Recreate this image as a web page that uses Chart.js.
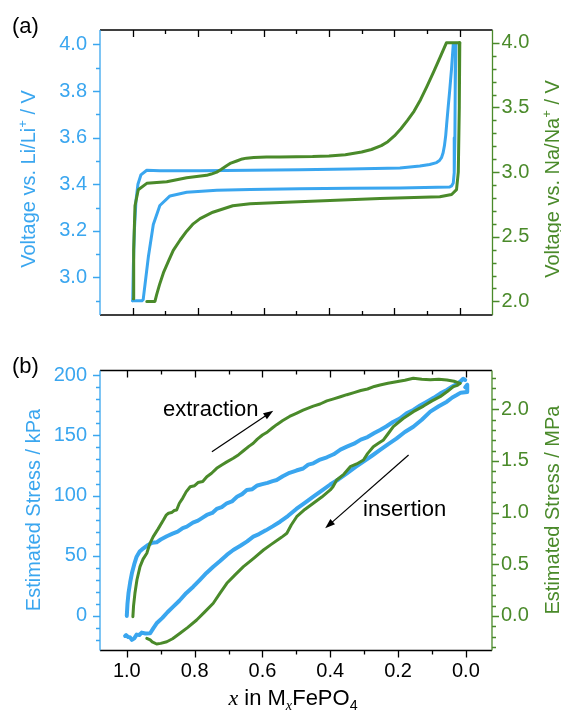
<!DOCTYPE html>
<html lang="en">
<head>
<meta charset="UTF-8">
<title>Voltage and stress vs x in MxFePO4</title>
<script src="https://cdn.jsdelivr.net/npm/chart.js"></script>
<style>
    body { margin: 0; background: #fff; }
    #wrap { position: relative; width: 561px; height: 711px; font-family: "Liberation Sans", Arial, sans-serif; }
    canvas { position: absolute; left: 0; }
    .lbl { position: absolute; white-space: nowrap; line-height: 1; font-size: 20px; }
    .vt { transform: translate(-50%, -50%) rotate(-90deg); }
    .blue { color: #3aa6ef; }
    .green { color: #4a8a2a; }
    sup, sub { font-size: 0.65em; position: relative; vertical-align: baseline; }
    sup { top: -0.6em; }
    sub { top: 0.35em; }
</style>
</head>
<body>
<div id="wrap">
    <canvas id="topChart" width="561" height="340" style="top:0"></canvas>
    <canvas id="botChart" width="561" height="371" style="top:340px"></canvas>

    <div class="lbl" style="left:12px; top:15px; font-size:22px;">(a)</div>
    <div class="lbl" style="left:12px; top:355px; font-size:22px;">(b)</div>

    <div class="lbl vt blue" style="left:28px; top:179px;">Voltage vs. Li/Li<sup>+</sup> / V</div>
    <div class="lbl vt green" style="left:552px; top:179px;">Voltage vs. Na/Na<sup>+</sup> / V</div>
    <div class="lbl vt blue" style="left:33px; top:510px;">Estimated Stress / kPa</div>
    <div class="lbl vt green" style="left:552px; top:510px;">Estimated Stress / MPa</div>

    <div class="lbl" style="left:163px; top:398px; font-size:22px;">extraction</div>
    <div class="lbl" style="left:363px; top:498px; font-size:22px;">insertion</div>

    <div class="lbl" style="left:293px; top:687px; transform:translateX(-50%); font-size:22px;"><i style="font-family:'Liberation Serif',serif">x</i> in M<sub><i style="font-family:'Liberation Serif',serif">x</i></sub>FePO<sub>4</sub></div>
</div>

<script>
    const BLUE = '#3aa6ef';
    const GREEN = '#4a8a2a';

    // (a) voltage profiles
    const liChargeX = [1.000, 0.998, 0.995, 0.990, 0.984, 0.975, 0.957, 0.917, 0.794, 0.641, 0.489, 0.336, 0.183, 0.122, 0.092, 0.071, 0.062, 0.056, 0.051, 0.047, 0.043, 0.040, 0.035, 0.031, 0.025, 0.020, 0.012];
    const liChargeV = [2.90, 3.05, 3.20, 3.33, 3.40, 3.44, 3.46, 3.458, 3.458, 3.46, 3.462, 3.465, 3.47, 3.478, 3.485, 3.493, 3.502, 3.514, 3.535, 3.565, 3.61, 3.66, 3.74, 3.80, 3.90, 4.00, 4.00];
    const liDischargeX = [0.012, 0.014, 0.015, 0.017, 0.020, 0.025, 0.031, 0.183, 0.336, 0.489, 0.641, 0.743, 0.835, 0.886, 0.917, 0.937, 0.952, 0.968, 0.972, 1.000];
    const liDischargeV = [4.00, 3.80, 3.60, 3.45, 3.405, 3.393, 3.388, 3.384, 3.383, 3.381, 3.378, 3.374, 3.366, 3.35, 3.309, 3.227, 3.09, 2.905, 2.90, 2.90];

    const naChargeX = [0.998, 0.997, 0.993, 0.983, 0.957, 0.896, 0.835, 0.774, 0.760, 0.743, 0.730, 0.713, 0.700, 0.682, 0.665, 0.652, 0.630, 0.591, 0.550, 0.450, 0.400, 0.350, 0.300, 0.270, 0.240, 0.220, 0.200, 0.180, 0.160, 0.140, 0.120, 0.100, 0.080, 0.060, 0.041, 0.000];
    const naChargeV = [2.02, 2.40, 2.74, 2.864, 2.913, 2.926, 2.956, 2.975, 2.985, 3.00, 3.02, 3.049, 3.07, 3.086, 3.102, 3.108, 3.113, 3.116, 3.116, 3.12, 3.125, 3.135, 3.155, 3.175, 3.205, 3.235, 3.28, 3.335, 3.40, 3.47, 3.56, 3.665, 3.775, 3.89, 4.00, 4.00];
    const naDischargeX = [0.000, 0.0015, 0.0046, 0.010, 0.025, 0.061, 0.244, 0.550, 0.641, 0.694, 0.755, 0.794, 0.815, 0.835, 0.855, 0.876, 0.890, 0.906, 0.918, 0.927, 0.932, 0.957];
    const naDischargeV = [4.00, 3.50, 3.00, 2.864, 2.827, 2.81, 2.795, 2.765, 2.755, 2.74, 2.69, 2.64, 2.60, 2.543, 2.475, 2.395, 2.315, 2.222, 2.13, 2.05, 2.00, 2.00];

    // (b) estimated stress
    const liStressUpX = [1.000, 0.998, 0.995, 0.990, 0.985, 0.978, 0.971, 0.962, 0.951, 0.940, 0.925, 0.912, 0.900, 0.882, 0.865, 0.850, 0.835, 0.823, 0.805, 0.790, 0.775, 0.764, 0.748, 0.735, 0.720, 0.705, 0.690, 0.675, 0.660, 0.646, 0.630, 0.615, 0.600, 0.585, 0.570, 0.558, 0.540, 0.520, 0.500, 0.480, 0.465, 0.450, 0.430, 0.410, 0.390, 0.370, 0.351, 0.330, 0.310, 0.290, 0.270, 0.253, 0.235, 0.215, 0.195, 0.175, 0.155, 0.135, 0.115, 0.095, 0.075, 0.056, 0.040, 0.025, 0.017, 0.008, 0.002];
    const liStressUpY = [0, 10, 18.8, 28, 35.4, 43, 49.2, 53.5, 56.2, 58.5, 60.8, 61.2, 63.5, 66.2, 68.4, 70.1, 73.0, 74.2, 77.5, 79.2, 81.9, 83.9, 85.6, 88.9, 90.4, 93.6, 95.1, 99.0, 101.2, 104.6, 105.3, 108.4, 109.5, 110.6, 112.0, 112.9, 116.0, 118.9, 120.8, 122.5, 125.7, 126.8, 129.9, 131.8, 134.3, 138.2, 140.6, 143.1, 146.5, 148.6, 151.9, 154.5, 157.4, 161.1, 164.0, 168.3, 171.1, 174.8, 178.0, 181.2, 184.9, 187.7, 190.6, 193.0, 194.6, 197, 196];
    const liStressDownX = [0.002, -0.004, -0.004, 0.015, 0.027, 0.040, 0.056, 0.080, 0.105, 0.130, 0.155, 0.180, 0.205, 0.230, 0.253, 0.275, 0.300, 0.325, 0.351, 0.375, 0.400, 0.425, 0.450, 0.475, 0.500, 0.525, 0.548, 0.570, 0.590, 0.610, 0.627, 0.645, 0.665, 0.686, 0.705, 0.725, 0.745, 0.765, 0.785, 0.804, 0.825, 0.845, 0.863, 0.880, 0.895, 0.912, 0.922, 0.931, 0.945, 0.956, 0.963, 0.971, 0.978, 0.985, 0.991, 0.996, 1.002, 1.005];
    const liStressDownY = [190, 192, 186, 185.5, 183.5, 181.5, 178.0, 174.2, 169.7, 163.0, 157.2, 152.8, 147.3, 142.6, 137.9, 133.5, 128.6, 123.9, 118.5, 113.6, 109.2, 104.1, 99.1, 94.0, 88.9, 83.0, 78.3, 74.4, 71.1, 68.0, 65.9, 62.0, 58.3, 54.8, 50.7, 45.6, 40.9, 35.7, 29.8, 24.3, 18.9, 12.6, 7.7, 3.1, -1.6, -6.1, -10.3, -14.4, -14.6, -13.8, -15.8, -15.5, -18.6, -19.9, -17.6, -17.5, -15.9, -16.6];

    const naStressUpX = [0.982, 0.980, 0.976, 0.970, 0.961, 0.952, 0.941, 0.932, 0.922, 0.908, 0.892, 0.884, 0.877, 0.868, 0.860, 0.853, 0.845, 0.835, 0.825, 0.813, 0.800, 0.790, 0.776, 0.764, 0.750, 0.735, 0.720, 0.705, 0.686, 0.670, 0.655, 0.640, 0.627, 0.615, 0.600, 0.585, 0.570, 0.558, 0.540, 0.520, 0.500, 0.480, 0.465, 0.450, 0.430, 0.410, 0.390, 0.370, 0.351, 0.330, 0.310, 0.290, 0.270, 0.253, 0.230, 0.205, 0.180, 0.155, 0.130, 0.105, 0.080, 0.056, 0.035, 0.017];
    const naStressUpY = [-0.007, 0.10, 0.219, 0.35, 0.477, 0.55, 0.606, 0.70, 0.767, 0.84, 0.928, 0.975, 0.993, 1.00, 1.02, 1.025, 1.09, 1.14, 1.20, 1.25, 1.26, 1.29, 1.30, 1.347, 1.38, 1.428, 1.46, 1.49, 1.525, 1.56, 1.60, 1.64, 1.67, 1.71, 1.75, 1.78, 1.82, 1.85, 1.89, 1.93, 1.96, 1.99, 2.01, 2.03, 2.05, 2.08, 2.10, 2.12, 2.14, 2.16, 2.18, 2.195, 2.22, 2.234, 2.25, 2.265, 2.28, 2.299, 2.29, 2.285, 2.29, 2.282, 2.27, 2.25];
    const naStressDownX = [0.017, 0.025, 0.037, 0.055, 0.076, 0.100, 0.125, 0.155, 0.185, 0.214, 0.230, 0.243, 0.258, 0.273, 0.290, 0.302, 0.322, 0.341, 0.360, 0.381, 0.392, 0.400, 0.425, 0.450, 0.475, 0.499, 0.515, 0.528, 0.540, 0.548, 0.575, 0.597, 0.625, 0.656, 0.680, 0.705, 0.725, 0.745, 0.770, 0.794, 0.820, 0.843, 0.865, 0.882, 0.900, 0.912, 0.925, 0.931, 0.941];
    const naStressDownY = [2.25, 2.23, 2.218, 2.17, 2.121, 2.08, 2.03, 1.976, 1.91, 1.831, 1.76, 1.702, 1.67, 1.637, 1.57, 1.509, 1.47, 1.444, 1.37, 1.315, 1.25, 1.219, 1.15, 1.09, 1.03, 0.96, 0.88, 0.80, 0.77, 0.751, 0.69, 0.638, 0.56, 0.477, 0.40, 0.316, 0.22, 0.123, 0.04, -0.039, -0.11, -0.167, -0.22, -0.249, -0.265, -0.271, -0.25, -0.232, -0.216];

    // ticks
    const xTicks = [0, 0.2, 0.4, 0.6, 0.8, 1.0];
    const xMinor = [0.1, 0.3, 0.5, 0.7, 0.9];
    const liVTicks = [3.0, 3.2, 3.4, 3.6, 3.8, 4.0];
    const liVMinor = [2.9, 3.1, 3.3, 3.5, 3.7, 3.9];
    const naVTicks = [2.0, 2.5, 3.0, 3.5, 4.0];
    const naVMinor = [2.1, 2.2, 2.3, 2.4, 2.6, 2.7, 2.8, 2.9, 3.1, 3.2, 3.3, 3.4, 3.6, 3.7, 3.8, 3.9];
    const kpaTicks = [0, 50, 100, 150, 200];
    const kpaMinor = [-20, -10, 10, 20, 30, 40, 60, 70, 80, 90, 110, 120, 130, 140, 160, 170, 180, 190];
    const mpaTicks = [0.0, 0.5, 1.0, 1.5, 2.0];
    const mpaMinor = [-0.3, -0.2, -0.1, 0.1, 0.2, 0.3, 0.4, 0.6, 0.7, 0.8, 0.9, 1.1, 1.2, 1.3, 1.4, 1.6, 1.7, 1.8, 1.9, 2.1, 2.2, 2.3];

    const pts = (xs, ys) => xs.map((x, i) => ({ x: x, y: ys[i] }));
    const line = (xs, ys, color, axis, w) => ({
        data: pts(xs, ys), yAxisID: axis, showLine: true, borderColor: color,
        borderWidth: w || 3, pointRadius: 0, tension: 0, fill: false,
        borderJoinStyle: 'round', borderCapStyle: 'round'
    });
    const font = { family: '"Liberation Sans", Arial, sans-serif', size: 20 };
    const setTicks = list => scale => { scale.ticks = list.map(v => ({ value: v })); };

    // frame, inward/outward tick marks and arrows
    const axisDeco = {
        id: 'axisDeco',
        afterDatasetsDraw(chart, args, o) {
            const { ctx, chartArea: a } = chart;
            ctx.save();
            ctx.lineWidth = 1.3;
            o.sides.forEach(s => {
                const sc = chart.scales[s.scale];
                const out = s.dir === 'out';
                ctx.strokeStyle = s.color;
                ctx.beginPath();
                if (s.edge === 'left' || s.edge === 'right') {
                    const x = s.edge === 'left' ? a.left : a.right;
                    const sign = s.edge === 'left' ? (out ? -1 : 1) : (out ? 1 : -1);
                    ctx.moveTo(x, a.top); ctx.lineTo(x, a.bottom);
                    [[s.major, 7], [s.minor, 4]].forEach(([vals, len]) => vals.forEach(v => {
                        const y = Math.round(sc.getPixelForValue(v)) + 0.5;
                        ctx.moveTo(x, y); ctx.lineTo(x + sign * len, y);
                    }));
                } else {
                    const y = s.edge === 'top' ? a.top : a.bottom;
                    const sign = s.edge === 'top' ? (out ? -1 : 1) : (out ? 1 : -1);
                    ctx.moveTo(a.left, y); ctx.lineTo(a.right, y);
                    [[s.major, 7], [s.minor, 4]].forEach(([vals, len]) => vals.forEach(v => {
                        const x = Math.round(sc.getPixelForValue(v)) + 0.5;
                        ctx.moveTo(x, y); ctx.lineTo(x, y + sign * len);
                    }));
                }
                ctx.stroke();
            });
            (o.arrows || []).forEach(ar => {
                const xs = chart.scales.x, ys = chart.scales.y;
                const x0 = xs.getPixelForValue(ar[0]), y0 = ys.getPixelForValue(ar[1]);
                const x1 = xs.getPixelForValue(ar[2]), y1 = ys.getPixelForValue(ar[3]);
                const ang = Math.atan2(y1 - y0, x1 - x0);
                ctx.strokeStyle = '#000';
                ctx.fillStyle = '#000';
                ctx.lineWidth = 1.2;
                ctx.beginPath();
                ctx.moveTo(x0, y0);
                ctx.lineTo(x1 - 6 * Math.cos(ang), y1 - 6 * Math.sin(ang));
                ctx.stroke();
                ctx.beginPath();
                ctx.moveTo(x1, y1);
                ctx.lineTo(x1 - 10 * Math.cos(ang) + 3.5 * Math.sin(ang), y1 - 10 * Math.sin(ang) - 3.5 * Math.cos(ang));
                ctx.lineTo(x1 - 10 * Math.cos(ang) - 3.5 * Math.sin(ang), y1 - 10 * Math.sin(ang) + 3.5 * Math.cos(ang));
                ctx.closePath();
                ctx.fill();
            });
            ctx.restore();
        }
    };

    const yAxis = (pos, min, max, list, color, width, pad, dec) => ({
        type: 'linear', position: pos, min: min, max: max,
        afterBuildTicks: setTicks(list),
        afterFit: s => { s.width = width; },
        grid: { display: false, drawTicks: false },
        border: { display: false },
        ticks: { color: color, font: font, padding: pad, callback: v => v.toFixed(dec) }
    });

    new Chart(document.getElementById('topChart'), {
        type: 'scatter',
        data: {
            datasets: [
                line(naChargeX, naChargeV, GREEN, 'y2'),
                line(naDischargeX, naDischargeV, GREEN, 'y2'),
                line(liChargeX, liChargeV, BLUE, 'y'),
                line(liDischargeX, liDischargeV, BLUE, 'y')
            ]
        },
        options: {
            responsive: false, animation: false, devicePixelRatio: 1,
            layout: { padding: { top: 30, bottom: 12.5, left: 0, right: 0 } },
            plugins: {
                legend: { display: false }, tooltip: { enabled: false },
                axisDeco: {
                    sides: [
                        { edge: 'top', scale: 'x', dir: 'in', color: '#000', major: xTicks, minor: xMinor },
                        { edge: 'bottom', scale: 'x', dir: 'in', color: '#000', major: xTicks, minor: xMinor },
                        { edge: 'left', scale: 'y', dir: 'out', color: BLUE, major: liVTicks, minor: liVMinor },
                        { edge: 'right', scale: 'y2', dir: 'out', color: GREEN, major: naVTicks, minor: naVMinor }
                    ]
                }
            },
            scales: {
                x: { type: 'linear', min: -0.1, max: 1.1, reverse: true, display: false },
                y: yAxis('left', 2.839, 4.062, liVTicks, BLUE, 100, 13, 1),
                y2: yAxis('right', 1.895, 4.099, naVTicks, GREEN, 68.5, 9, 1)
            }
        },
        plugins: [axisDeco]
    });

    new Chart(document.getElementById('botChart'), {
        type: 'scatter',
        data: {
            datasets: [
                line(naStressUpX, naStressUpY, GREEN, 'y2'),
                line(naStressDownX, naStressDownY, GREEN, 'y2'),
                line(liStressUpX, liStressUpY, BLUE, 'y', 4),
                line(liStressDownX, liStressDownY, BLUE, 'y', 4)
            ]
        },
        options: {
            responsive: false, animation: false, devicePixelRatio: 1,
            layout: { padding: { top: 30.5, bottom: 0, left: 0, right: 0 } },
            plugins: {
                legend: { display: false }, tooltip: { enabled: false },
                axisDeco: {
                    sides: [
                        { edge: 'top', scale: 'x', dir: 'in', color: '#000', major: xTicks, minor: xMinor },
                        { edge: 'bottom', scale: 'x', dir: 'out', color: '#000', major: xTicks, minor: xMinor },
                        { edge: 'left', scale: 'y', dir: 'out', color: BLUE, major: kpaTicks, minor: kpaMinor },
                        { edge: 'right', scale: 'y2', dir: 'out', color: GREEN, major: mpaTicks, minor: mpaMinor }
                    ],
                    arrows: [[0.749, 136.5, 0.568, 170.5], [0.169, 133.7, 0.415, 72.8]]
                }
            },
            scales: {
                x: {
                    type: 'linear', min: -0.077, max: 1.079, reverse: true,
                    afterBuildTicks: setTicks(xTicks),
                    afterFit: s => { s.height = 60.5; },
                    grid: { display: false, drawTicks: false },
                    border: { display: false },
                    ticks: { color: '#000', font: font, padding: 9, maxRotation: 0, callback: v => v.toFixed(1) }
                },
                y: yAxis('left', -28.7, 203.9, kpaTicks, BLUE, 100, 13, 0),
                y2: yAxis('right', -0.334, 2.374, mpaTicks, GREEN, 69, 9, 1)
            }
        },
        plugins: [axisDeco]
    });
</script>
</body>
</html>
